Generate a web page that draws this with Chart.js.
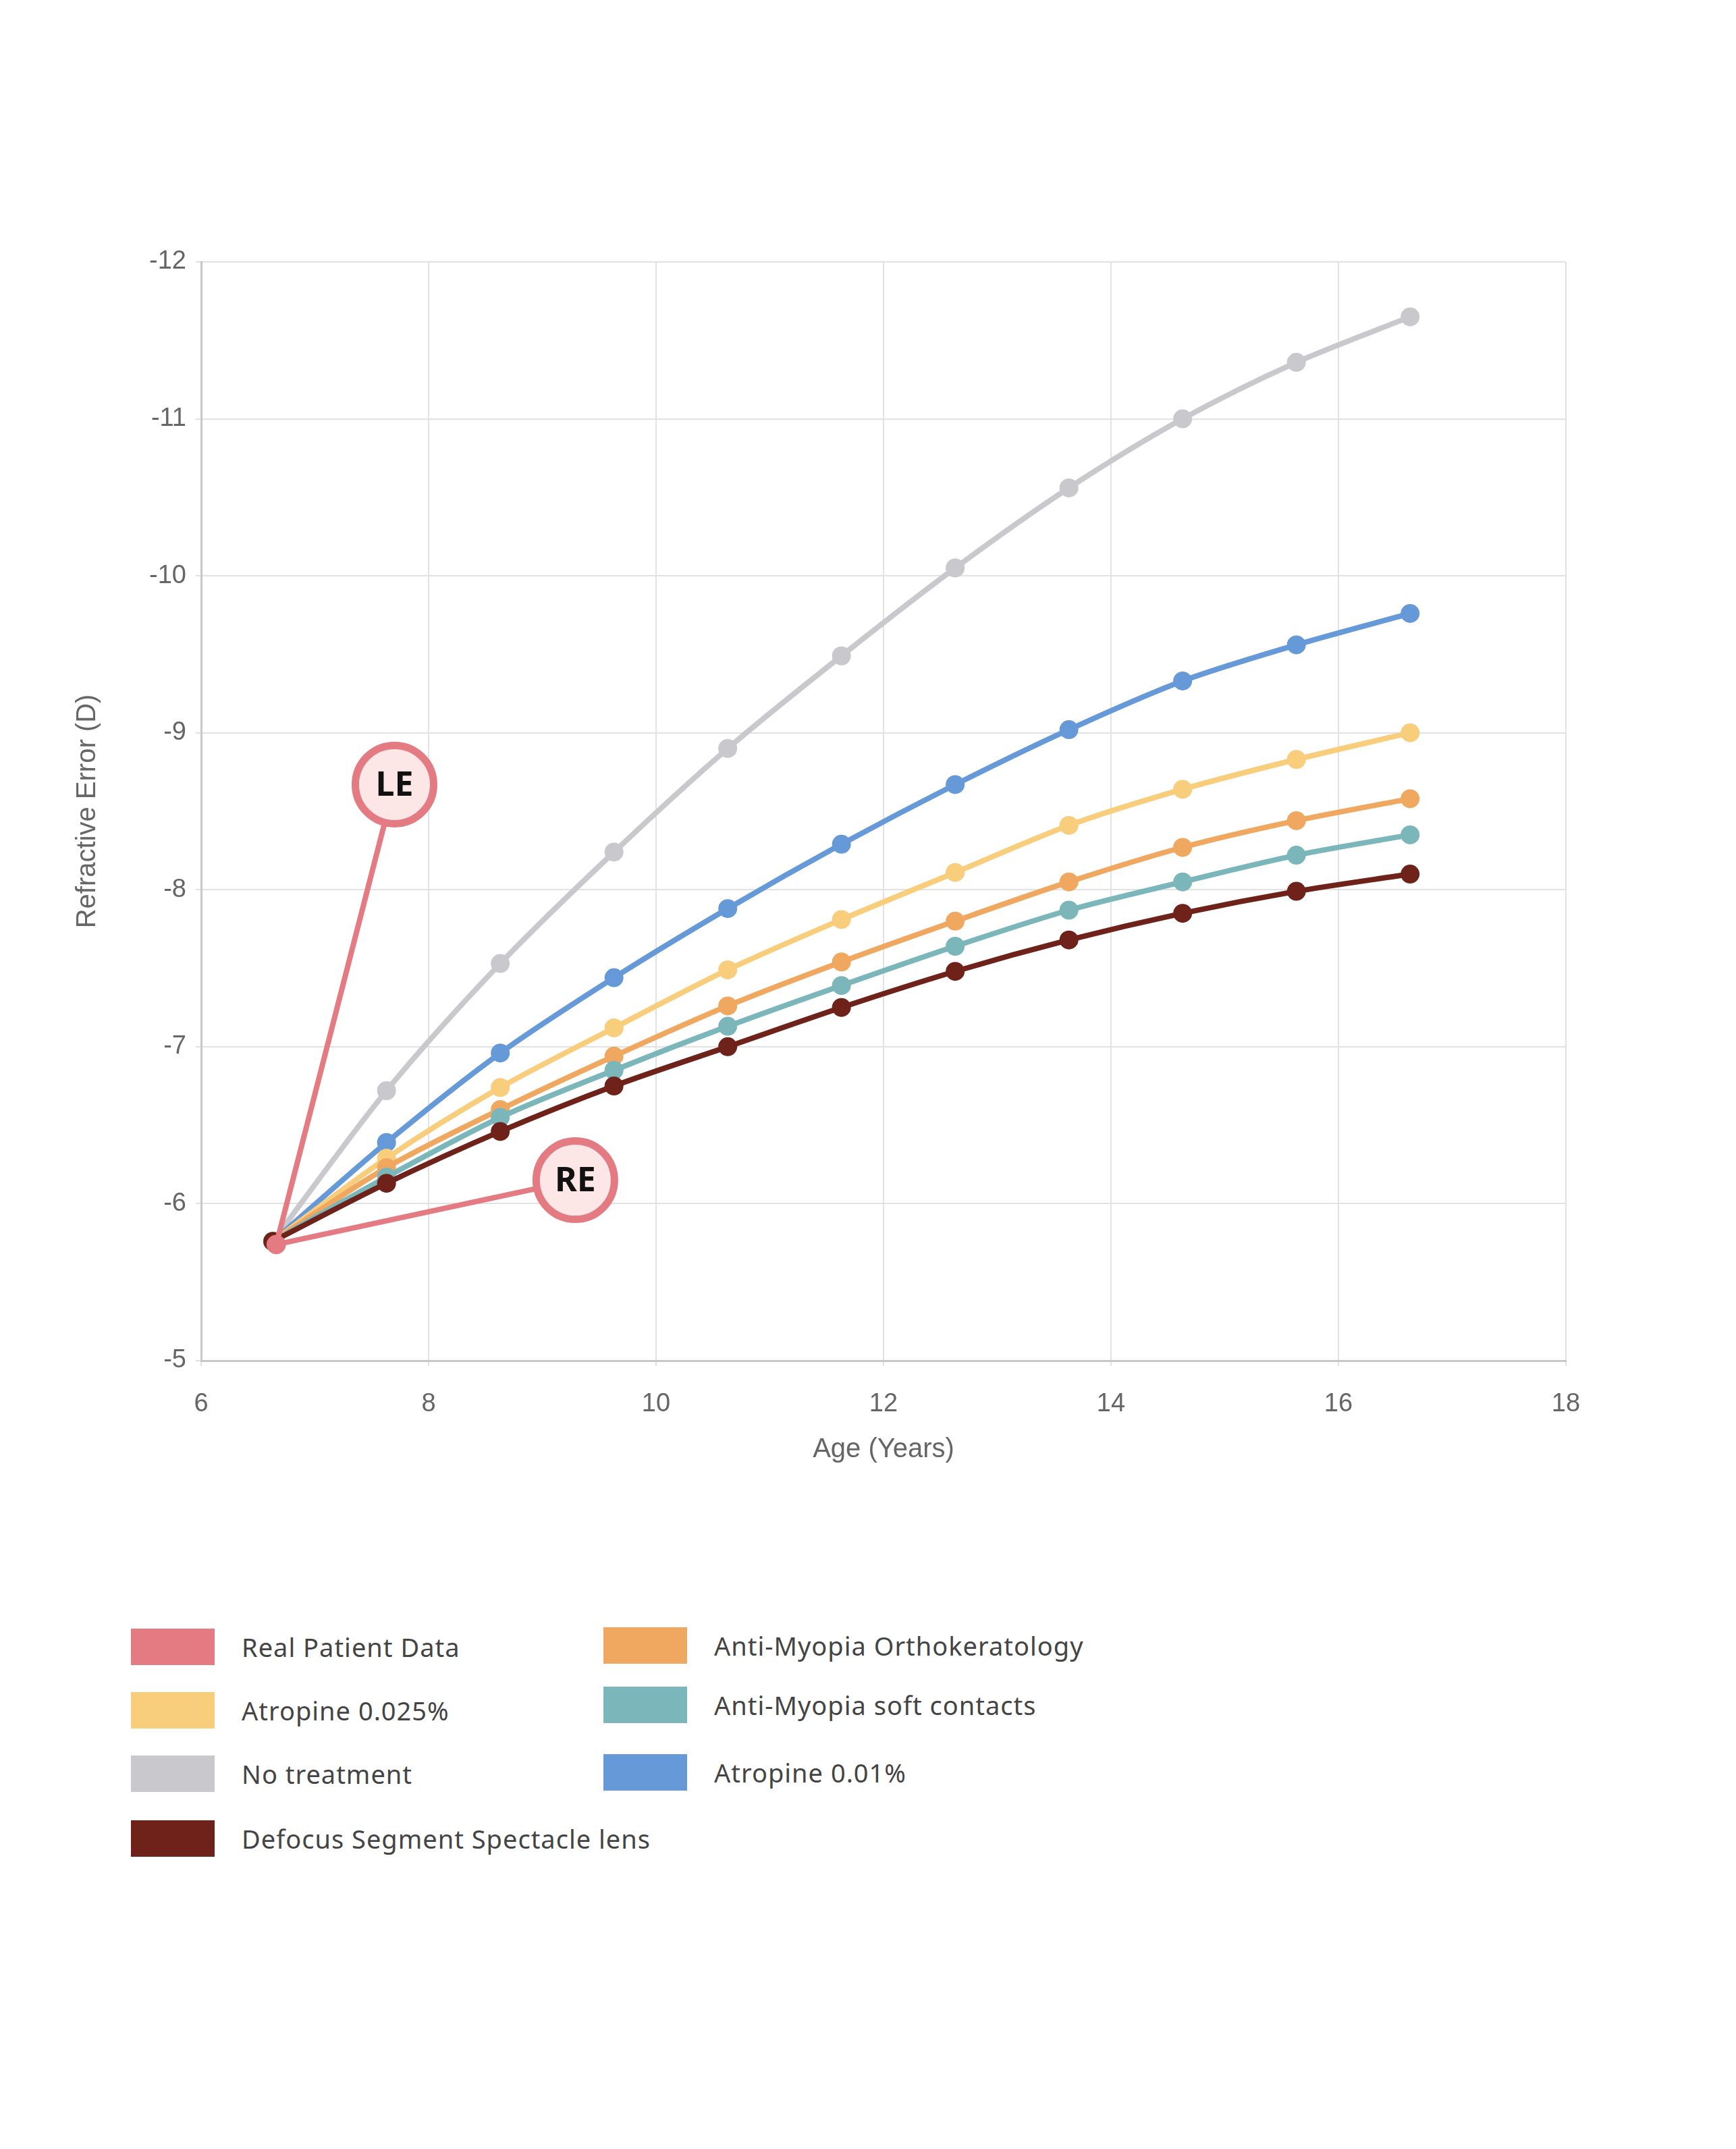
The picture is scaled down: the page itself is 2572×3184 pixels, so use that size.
<!DOCTYPE html>
<html>
<head>
<meta charset="utf-8">
<script src="https://cdn.jsdelivr.net/npm/chart.js@4"></script>
<style>
  body { margin: 0; background: #fff; width: 2572px; height: 3184px; position: relative; font-family: "Noto Sans", sans-serif; }
  #chart { position: absolute; left: 0; top: 0; }
  .leg { position: absolute; display: flex; align-items: center; font-size: 38px; color: #444; letter-spacing: 1px; }
  .leg span.sw { display: inline-block; width: 124px; height: 54px; margin-right: 40px; }
</style>
</head>
<body>
<canvas id="chart" width="2572" height="2260"></canvas>
<div id="legend"></div>
<script>
// ages of the simulated projection points
const ages = [6.63, 7.63, 8.63, 9.63, 10.63, 11.63, 12.63, 13.63, 14.63, 15.63, 16.63];
const start = -5.76;
const noTreatment = [start, -6.72, -7.53, -8.24, -8.90, -9.49, -10.05, -10.56, -11.00, -11.36, -11.65];
const atropine001 = [start, -6.39, -6.96, -7.44, -7.88, -8.29, -8.67, -9.02, -9.33, -9.56, -9.76];
const atropine0025 = [start, -6.29, -6.74, -7.12, -7.49, -7.81, -8.11, -8.41, -8.64, -8.83, -9.00];
const orthoK = [start, -6.23, -6.60, -6.94, -7.26, -7.54, -7.80, -8.05, -8.27, -8.44, -8.58];
const softContacts = [start, -6.17, -6.55, -6.85, -7.13, -7.39, -7.64, -7.87, -8.05, -8.22, -8.35];
const defocusLens = [start, -6.13, -6.46, -6.75, -7.00, -7.25, -7.48, -7.68, -7.85, -7.99, -8.10];
const patient = { x: 6.66, y: -5.74 };
const leMark = { x: 7.70, y: -8.67 };
const reMark = { x: 9.29, y: -6.15 };

const pink = '#e47a82';
const series = [
  { label: 'No treatment', data: noTreatment, color: '#c8c8cd' },
  { label: 'Atropine 0.01%', data: atropine001, color: '#6699d8' },
  { label: 'Atropine 0.025%', data: atropine0025, color: '#f8cd7c' },
  { label: 'Anti-Myopia Orthokeratology', data: orthoK, color: '#f0a860' },
  { label: 'Anti-Myopia soft contacts', data: softContacts, color: '#7ab6ba' },
  { label: 'Defocus Segment Spectacle lens', data: defocusLens, color: '#6e2219' }
];

// later series drawn on top (lower order = drawn last)
const datasets = series.map((s, i) => ({
  label: s.label,
  data: s.data.map((v, j) => ({ x: ages[j], y: v })),
  borderColor: s.color, backgroundColor: s.color,
  borderWidth: 8, pointRadius: 10, tension: 0.3, order: 10 - i
}));
// patient data lines to LE / RE markers
datasets.push({ label: 'LE', data: [patient, leMark], borderColor: pink, borderWidth: 8, pointRadius: 0, order: 1 });
datasets.push({ label: 'RE', data: [patient, reMark], borderColor: pink, borderWidth: 8, pointRadius: 0, order: 1 });
datasets.push({ label: 'Real Patient Data', data: [patient], borderColor: pink, backgroundColor: pink, pointRadius: 14, showLine: false, order: 0 });

const markers = {
  id: 'markers',
  afterDatasetsDraw(chart) {
    const { ctx, scales: { x, y } } = chart;
    [[leMark, 'LE'], [reMark, 'RE']].forEach(([m, t]) => {
      const px = x.getPixelForValue(m.x), py = y.getPixelForValue(m.y);
      ctx.save();
      ctx.beginPath();
      ctx.arc(px, py, 58, 0, Math.PI * 2);
      ctx.fillStyle = '#fde6e6';
      ctx.fill();
      ctx.lineWidth = 11;
      ctx.strokeStyle = pink;
      ctx.stroke();
      ctx.fillStyle = '#111';
      ctx.font = 'bold 50px "Noto Sans"';
      ctx.textAlign = 'center';
      ctx.textBaseline = 'middle';
      ctx.fillText(t, px, py + 2);
      ctx.restore();
    });
  }
};

const tickFont = { family: 'Liberation Sans', size: 38 };
new Chart(document.getElementById('chart'), {
  type: 'scatter',
  data: { datasets: datasets.map(d => ({ showLine: true, ...d })) },
  options: {
    responsive: false, animation: false, devicePixelRatio: 1,
    layout: { padding: { left: 102, top: 388, right: 252, bottom: 84 } },
    plugins: { legend: { display: false }, tooltip: { enabled: false } },
    scales: {
      x: {
        min: 6, max: 18, ticks: { stepSize: 2, color: '#666', font: tickFont, padding: 34 },
        grid: { color: '#e2e2e2', lineWidth: 2 }, border: { color: '#c8c8c8', width: 3 },
        title: { display: true, text: 'Age (Years)', color: '#666', font: { family: 'Liberation Sans', size: 40 }, padding: { top: 20 } },
        afterFit: s => { s.height = 160; }
      },
      y: {
        min: -12, max: -5, reverse: true, ticks: { stepSize: 1, color: '#666', font: tickFont, padding: 14 },
        grid: { color: '#e2e2e2', lineWidth: 2 }, border: { color: '#c8c8c8', width: 3 },
        title: { display: true, text: 'Refractive Error (D)', color: '#666', font: { family: 'Liberation Sans', size: 40 } },
        afterFit: s => { s.width = 196; }
      }
    }
  },
  plugins: [markers]
});

// legend
const legendItems = [
  ['Real Patient Data', pink, 194, 2440],
  ['Atropine 0.025%', '#f8cd7c', 194, 2534],
  ['No treatment', '#c8c8cd', 194, 2628],
  ['Defocus Segment Spectacle lens', '#6e2219', 194, 2724],
  ['Anti-Myopia Orthokeratology', '#f0a860', 894, 2438],
  ['Anti-Myopia soft contacts', '#7ab6ba', 894, 2526],
  ['Atropine 0.01%', '#6699d8', 894, 2626]
];
const leg = document.getElementById('legend');
legendItems.forEach(([t, c, x, y]) => {
  const d = document.createElement('div');
  d.className = 'leg';
  d.style.left = x + 'px';
  d.style.top = (y - 27) + 'px';
  d.innerHTML = `<span class="sw" style="background:${c}"></span>${t}`;
  leg.appendChild(d);
});
</script>
</body>
</html>
